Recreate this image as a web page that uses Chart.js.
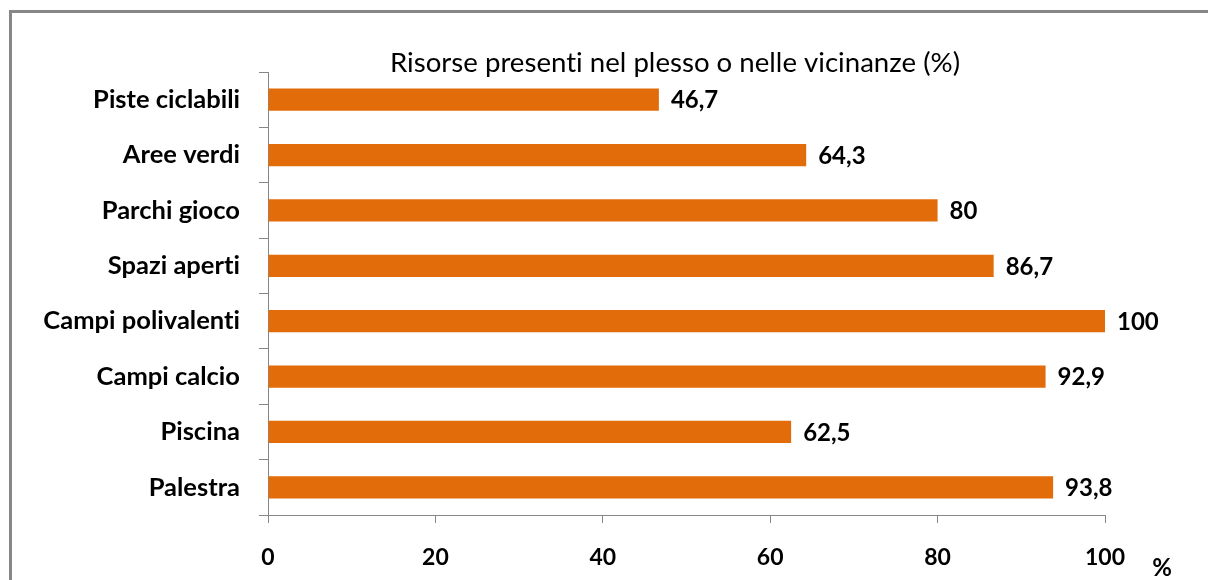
<!DOCTYPE html>
<html><head><meta charset="utf-8">
<script src="https://cdn.jsdelivr.net/npm/chart.js@4/dist/chart.umd.min.js"></script>
<style>
html,body{margin:0;padding:0;background:#fff;overflow:hidden}
#wrap{position:absolute;left:0;top:0;width:1208px;height:580px}
#frame{position:absolute;left:9px;top:10px;width:1400px;height:800px;border:3px solid #878787;box-sizing:border-box}
canvas{position:absolute;left:0;top:0}
</style></head>
<body>
<div id="wrap"><div id="frame"></div><canvas id="c" width="1208" height="580"></canvas></div>
<script>
const categories = ["Piste ciclabili","Aree verdi","Parchi gioco","Spazi aperti","Campi polivalenti","Campi calcio","Piscina","Palestra"];
const values = [46.7, 64.3, 80, 86.7, 100, 92.9, 62.5, 93.8];
const xTicks = [0, 20, 40, 60, 80, 100];
const chartTitle = "Risorse presenti nel plesso o nelle vicinanze (%)";
const unitLabel = "%";

const FONT = "Lato";
const axisColor = "#868686";

const noLig = {
  id: 'noLig',
  beforeDraw(chart) { try { chart.ctx.letterSpacing = "0.01px"; } catch (e) {} }
};

const labelPlugin = {
  id: 'labels',
  afterDatasetsDraw(chart) {
    const ctx = chart.ctx;
    const meta = chart.getDatasetMeta(0);
    ctx.save();
    try { ctx.letterSpacing = "0.01px"; } catch (e) {}
    ctx.fillStyle = "#000";
    ctx.font = "bold 24px " + FONT;
    ctx.textAlign = "left";
    ctx.textBaseline = "middle";
    meta.data.forEach((bar, i) => {
      const txt = String(values[i]).replace('.', ',');
      ctx.fillText(txt, bar.x + 12, bar.y + 1);
    });
    // title
    ctx.font = "27.6px " + FONT;
    ctx.textAlign = "center";
    ctx.fillText(chartTitle, 675, 63);
    // unit
    ctx.font = "bold 24px " + FONT;
    ctx.fillText(unitLabel, 1162, 568);
    ctx.restore();
  }
};

new Chart(document.getElementById('c'), {
  type: 'bar',
  data: {
    labels: categories,
    datasets: [{ data: values, backgroundColor: "#E36C0A", borderWidth: 0, barPercentage: 0.4, categoryPercentage: 1 }]
  },
  options: {
    indexAxis: 'y',
    responsive: false,
    animation: false,
    devicePixelRatio: 1,
    layout: { padding: { top: 72, right: 103, bottom: 0, left: 0 } },
    plugins: { legend: { display: false }, tooltip: { enabled: false }, title: { display: false } },
    scales: {
      x: {
        min: 0, max: 100,
        afterBuildTicks: s => { s.ticks = xTicks.map(v => ({ value: v })); },
        afterFit: s => { s.height = 65; },
        grid: { drawOnChartArea: false, drawTicks: true, tickLength: 8, color: axisColor, tickColor: axisColor },
        border: { display: true, color: axisColor, width: 1 },
        ticks: { color: "#000", font: { family: FONT, size: 23, weight: 'bold' }, padding: 21, maxRotation: 0 }
      },
      y: {
        afterFit: s => { s.width = 268; },
        grid: { drawOnChartArea: false, drawTicks: true, tickLength: 9, offset: true, color: axisColor, tickColor: axisColor },
        border: { display: true, color: axisColor, width: 1 },
        ticks: { color: "#000", font: { family: FONT, size: 25.5, weight: 'bold' }, padding: 19 }
      }
    }
  },
  plugins: [noLig, labelPlugin]
});
</script>
</body></html>
